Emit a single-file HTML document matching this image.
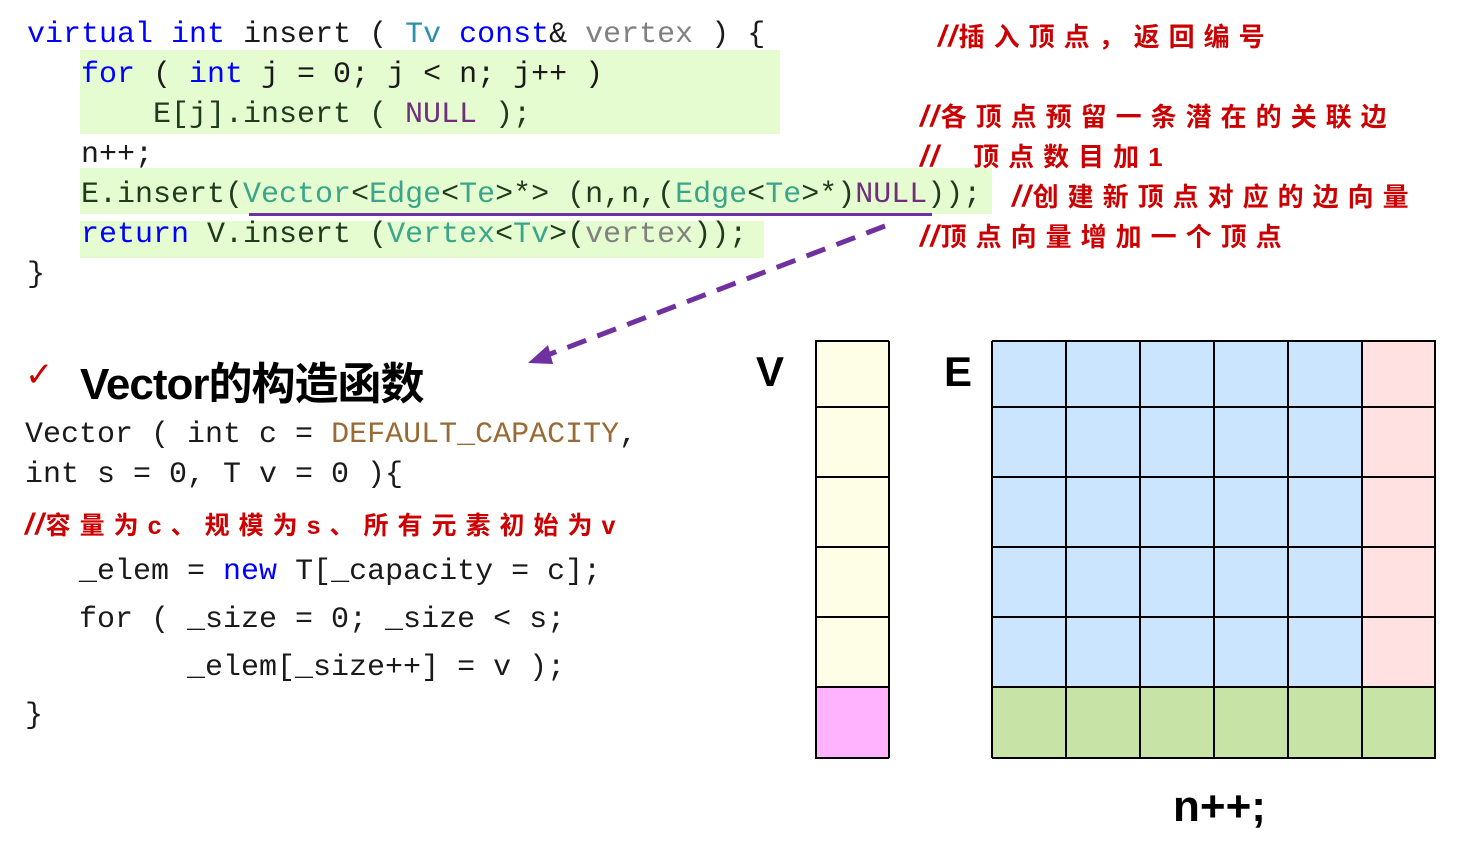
<!DOCTYPE html>
<html><head><meta charset="utf-8"><style>
body{margin:0;width:1458px;height:866px;background:#fff;position:relative;overflow:hidden;font-family:"Liberation Mono",monospace}
.c{position:absolute;white-space:pre;font-size:30px;line-height:40px;color:#1a1a1a;font-family:"Liberation Mono",monospace}
.k{color:#0000ff}.t{color:#2b91af}.g{color:#808080}.n{color:#6f2f7a}.m{color:#3aa58a}.o{color:#9a6a35}.dk{color:#1f3a1f}
.cm{position:absolute;white-space:pre;color:#cc0000;font-weight:bold;font-size:26px;letter-spacing:9px;font-family:"Liberation Sans","Noto Sans CJK SC",sans-serif}
.cm i{font-style:italic;letter-spacing:2px;font-size:30px}
.bg{position:absolute;background:#e5fbd0}
</style></head><body>
<div class="bg" style="left:80px;top:50px;width:700px;height:84px"></div>
<div class="bg" style="left:80px;top:168px;width:912px;height:46px"></div>
<div class="bg" style="left:80px;top:221px;width:684px;height:37px"></div>
<div style="position:absolute;left:249px;top:213px;width:683px;height:3px;background:#7030a0"></div>

<div class="c" style="left:27px;top:15px"><span class="k">virtual</span> <span class="k">int</span> insert ( <span class="t">Tv</span> <span class="k">const</span>&amp; <span class="g">vertex</span> ) {</div>
<div class="c" style="left:81px;top:55px"><span class="k">for</span> ( <span class="k">int</span> j = 0; j &lt; n; j++ )</div>
<div class="c dk" style="left:153px;top:95px">E[j].insert ( <span class="n">NULL</span> );</div>
<div class="c" style="left:81px;top:135px">n++;</div>
<div class="c dk" style="left:81px;top:175px">E.insert(<span class="m">Vector</span>&lt;<span class="m">Edge</span>&lt;<span class="m">Te</span>&gt;*&gt; (n,n,(<span class="m">Edge</span>&lt;<span class="m">Te</span>&gt;*)<span class="n">NULL</span>));</div>
<div class="c dk" style="left:81px;top:215px"><span class="k">return</span> V.insert (<span class="m">Vertex</span>&lt;<span class="m">Tv</span>&gt;(<span class="g">vertex</span>));</div>
<div class="c" style="left:27px;top:255px">}</div>

<div class="cm" style="left:938px;top:17px"><i>//</i>插入顶点，返回编号</div>
<div class="cm" style="left:920px;top:97px"><i>//</i>各顶点预留一条潜在的关联边</div>
<div class="cm" style="left:920px;top:137px"><i>//</i>  顶点数目加1</div>
<div class="cm" style="left:1012px;top:177px"><i>//</i>创建新顶点对应的边向量</div>
<div class="cm" style="left:920px;top:217px"><i>//</i>顶点向量增加一个顶点</div>

<svg style="position:absolute;left:0;top:0" width="1458" height="866">
<line x1="885" y1="226" x2="545" y2="356" stroke="#7030a0" stroke-width="5" stroke-dasharray="20,12"/>
<polygon points="528,363 548,345 553,364" fill="#7030a0"/>
</svg>

<div style="position:absolute;left:25px;top:355px;color:#cc0000;font-size:34px;font-family:'DejaVu Sans',sans-serif">✓</div>
<div style="position:absolute;left:80px;top:348px;font-size:44px;font-weight:bold;font-family:'Liberation Sans','Noto Sans CJK SC',sans-serif;color:#000;letter-spacing:-1px">Vector的构造函数</div>

<div class="c" style="left:25px;top:415px">Vector ( int c = <span class="o">DEFAULT_CAPACITY</span>,</div>
<div class="c" style="left:25px;top:455px">int s = 0, T v = 0 ){</div>
<div class="cm" style="left:25px;top:506px;font-size:25px"><i>//</i>容量为c、规模为s、所有元素初始为v</div>
<div class="c" style="left:25px;top:552px">   _elem = <span class="k">new</span> T[_capacity = c];</div>
<div class="c" style="left:25px;top:600px">   for ( _size = 0; _size &lt; s;</div>
<div class="c" style="left:25px;top:648px">         _elem[_size++] = v );</div>
<div class="c" style="left:25px;top:696px">}</div>

<div style="position:absolute;left:756px;top:348px;font-size:42px;font-weight:bold;font-family:'Liberation Sans',sans-serif">V</div>
<div style="position:absolute;left:944px;top:348px;font-size:42px;font-weight:bold;font-family:'Liberation Sans',sans-serif">E</div>
<div style="position:absolute;left:1173px;top:782px;font-size:44px;font-weight:bold;font-family:'Liberation Sans',sans-serif">n++;</div>

<svg style="position:absolute;left:814px;top:340px" width="78" height="420">
<rect x="1" y="1" width="74" height="347" fill="#fefee6"/>
<rect x="1" y="347" width="74" height="71" fill="#ffb3ff"/>
<g stroke="#000" stroke-width="2">
<line x1="1" y1="1" x2="75" y2="1"/><line x1="1" y1="67" x2="75" y2="67"/><line x1="1" y1="137" x2="75" y2="137"/><line x1="1" y1="207" x2="75" y2="207"/><line x1="1" y1="277" x2="75" y2="277"/><line x1="1" y1="347" x2="75" y2="347"/><line x1="1" y1="418" x2="75" y2="418"/>
<line x1="2" y1="1" x2="2" y2="418"/><line x1="75" y1="1" x2="75" y2="418"/>
</g></svg>

<svg style="position:absolute;left:991px;top:340px" width="446" height="420">
<rect x="1" y="1" width="370" height="347" fill="#cce5ff"/>
<rect x="371" y="1" width="74" height="347" fill="#ffe1e1"/>
<rect x="1" y="347" width="444" height="71" fill="#c8e3a6"/>
<g stroke="#000" stroke-width="2">
<line x1="1" y1="1" x2="445" y2="1"/><line x1="1" y1="67" x2="445" y2="67"/><line x1="1" y1="137" x2="445" y2="137"/><line x1="1" y1="207" x2="445" y2="207"/><line x1="1" y1="277" x2="445" y2="277"/><line x1="1" y1="347" x2="445" y2="347"/><line x1="1" y1="418" x2="445" y2="418"/>
<line x1="1" y1="1" x2="1" y2="418"/><line x1="75" y1="1" x2="75" y2="418"/><line x1="149" y1="1" x2="149" y2="418"/><line x1="223" y1="1" x2="223" y2="418"/><line x1="297" y1="1" x2="297" y2="418"/><line x1="371" y1="1" x2="371" y2="418"/><line x1="444" y1="1" x2="444" y2="418"/>
</g></svg>
</body></html>
